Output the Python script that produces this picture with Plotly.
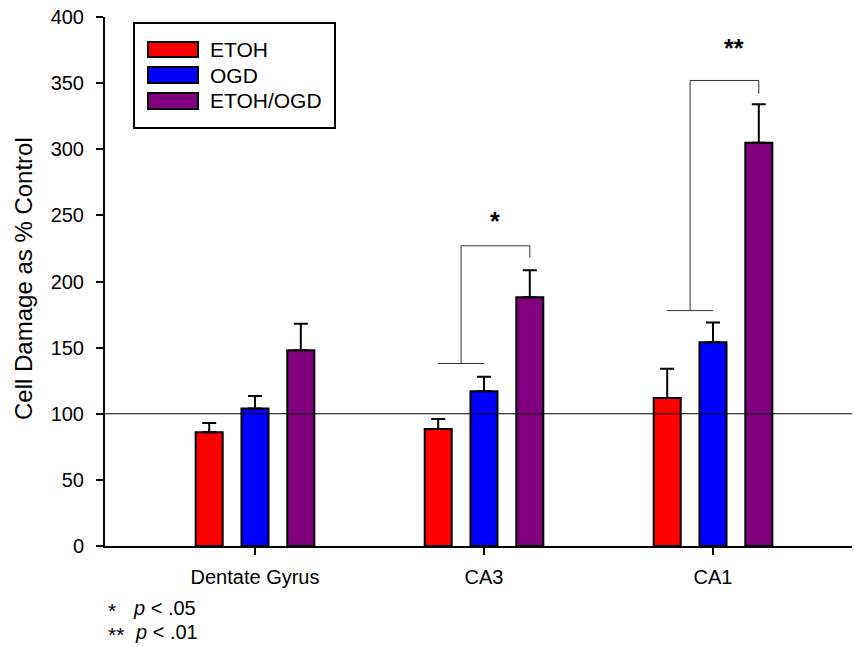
import plotly.graph_objects as go

categories = ["Dentate Gyrus", "CA3", "CA1"]
series_names = ["ETOH", "OGD", "ETOH/OGD"]
etoh = [86, 88.5, 112]
etoh_err = [7, 7.5, 22]
ogd = [104, 117, 154]
ogd_err = [9.5, 11, 15]
etoh_ogd = [148, 188, 305]
etoh_ogd_err = [20, 20.5, 29]
y_ticks = [0, 50, 100, 150, 200, 250, 300, 350, 400]
control_level = 100

colors = ["#FF0000", "#0000FF", "#800080"]
offsets = [-0.2, 0.0, 0.2]
bar_w = 0.118
FONT = "Liberation Sans, Arial, sans-serif"

xs = list(range(len(categories)))
fig = go.Figure()
for name, vals, errs, col, off in zip(series_names, [etoh, ogd, etoh_ogd],
                                      [etoh_err, ogd_err, etoh_ogd_err], colors, offsets):
    fig.add_trace(go.Bar(
        x=xs, y=vals, name=name, width=bar_w, offset=off - bar_w / 2,
        marker=dict(color=col, line=dict(color="black", width=2)),
        error_y=dict(type="data", array=errs, arrayminus=[0] * len(errs), symmetric=False,
                     color="black", thickness=2, width=7),
        showlegend=False,
    ))

# plot-area geometry in pixels
L, R, T, B = 105, 852, 17, 546
W, H = R - L, B - T
def px(x):
    return (x - L) / W
def py(y):
    return (B - y) / H

shapes = []
# control line
shapes.append(dict(type="line", xref="paper", yref="y", x0=0, x1=1, y0=control_level, y1=control_level,
                   line=dict(color="black", width=1)))
# significance brackets
def bracket(i, low, top, drop):
    c = dict(color="#333333", width=1)
    return [
        dict(type="line", xref="x", yref="y", x0=i - 0.2, x1=i, y0=low, y1=low, line=c),
        dict(type="line", xref="x", yref="y", x0=i - 0.1, x1=i - 0.1, y0=low, y1=top, line=c),
        dict(type="line", xref="x", yref="y", x0=i - 0.1, x1=i + 0.2, y0=top, y1=top, line=c),
        dict(type="line", xref="x", yref="y", x0=i + 0.2, x1=i + 0.2, y0=top, y1=drop, line=c),
    ]
shapes += bracket(1, 138, 227, 218)
shapes += bracket(2, 178, 352, 342)

# legend box
shapes.append(dict(type="rect", xref="paper", yref="paper", x0=px(134), x1=px(335), y0=py(128), y1=py(23),
                   line=dict(color="black", width=2), fillcolor="white", layer="above"))
annotations = []
sw_y = [(42, 57), (67, 83), (93, 109)]
for (y0, y1), col, name in zip(sw_y, colors, series_names):
    shapes.append(dict(type="rect", xref="paper", yref="paper", x0=px(148), x1=px(198), y0=py(y1), y1=py(y0),
                       line=dict(color="black", width=2), fillcolor=col, layer="above"))
    annotations.append(dict(xref="paper", yref="paper", x=px(208), y=py((y0 + y1) / 2), text=name,
                            showarrow=False, xanchor="left", yanchor="middle",
                            font=dict(family=FONT, size=21, color="black")))

# stars
annotations.append(dict(xref="x", yref="y", x=1.05, y=249, text="<b>*</b>", showarrow=False,
                        xanchor="center", yanchor="middle", yshift=-4,
                        font=dict(family=FONT, size=25, color="black")))
annotations.append(dict(xref="x", yref="y", x=2.09, y=379, text="<b>**</b>", showarrow=False,
                        xanchor="center", yanchor="middle", yshift=-3,
                        font=dict(family=FONT, size=25, color="black")))

# y axis title
annotations.append(dict(xref="paper", yref="paper", x=px(23), y=py(279), text="Cell Damage as % Control",
                        textangle=-90, showarrow=False, xanchor="center", yanchor="middle",
                        font=dict(family=FONT, size=24, color="black")))

# footnotes
for sx, tx, yy, st, tt in [(106, 131, 608, "*", "<i>p</i> &lt; .05"), (106, 133, 632, "**", "<i>p</i> &lt; .01")]:
    annotations.append(dict(xref="paper", yref="paper", x=px(sx), y=py(yy), text=st, showarrow=False,
                            xanchor="left", yanchor="middle", yshift=-2,
                            font=dict(family=FONT, size=21, color="black")))
    annotations.append(dict(xref="paper", yref="paper", x=px(tx), y=py(yy), text=tt, showarrow=False,
                            xanchor="left", yanchor="middle",
                            font=dict(family=FONT, size=20, color="black")))

fig.update_layout(
    width=854, height=647,
    margin=dict(l=L, r=854 - R, t=T, b=647 - B, pad=0),
    paper_bgcolor="white", plot_bgcolor="white",
    barmode="group",
    shapes=shapes, annotations=annotations,
    xaxis=dict(range=[-0.655, 2.607], tickvals=xs, ticktext=categories, showgrid=False, zeroline=False,
               showline=True, linecolor="black", linewidth=2, ticks="outside", ticklen=7, tickwidth=2,
               tickcolor="black", ticklabelstandoff=5,
               tickfont=dict(family=FONT, size=20, color="black")),
    yaxis=dict(range=[0, 400], tickvals=y_ticks, showgrid=False, zeroline=False,
               showline=True, linecolor="black", linewidth=2, ticks="outside", ticklen=7, tickwidth=2,
               tickcolor="black", ticklabelstandoff=8,
               tickfont=dict(family=FONT, size=20, color="black")),
    font=dict(family=FONT, color="black"),
)

fig.write_html("out.html", config={"displayModeBar": False},
               post_script="document.body.style.margin='0';document.body.style.overflow='hidden';")
